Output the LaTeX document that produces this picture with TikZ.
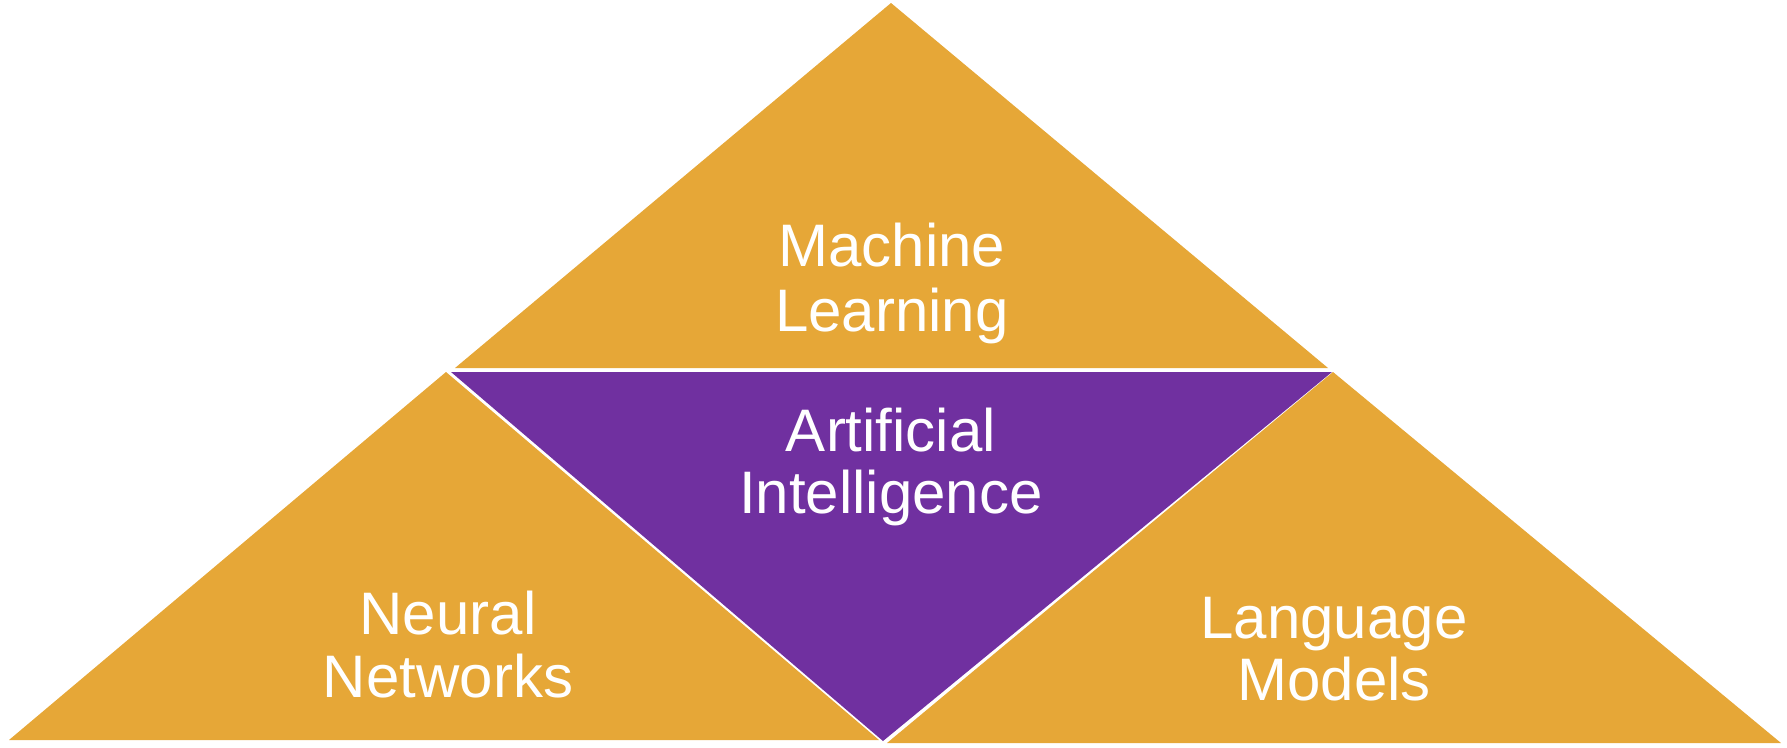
\documentclass[tikz,border=0pt]{standalone}
\usepackage{fontspec}
\setmainfont{Liberation Sans}
\definecolor{aiGold}{HTML}{E6A737}
\definecolor{aiPurple}{HTML}{7030A0}
\begin{document}
\begin{tikzpicture}[x=1pt,y=-1pt,
  goldtri/.style={fill=aiGold, draw=none},
  purpletri/.style={fill=aiPurple, draw=none},
  lbl/.style={text=white, font=\fontsize{60}{64}\selectfont, anchor=base, inner sep=0pt}]
\useasboundingbox (0,0) rectangle (1787,747);
% top triangle (Machine Learning)
\coordinate (tA) at (891,3);
\coordinate (tL) at (455,368);
\coordinate (tR) at (1328,368);
% central inverted triangle (AI)
\coordinate (cL) at (451,372);
\coordinate (cR) at (1332,372);
\coordinate (cB) at (883,741);
% left triangle (Neural Networks)
\coordinate (lA) at (446,372);
\coordinate (lL) at (9,740);
\coordinate (lR) at (879,740);
% right triangle (Language Models)
\coordinate (rA) at (1333,372);
\coordinate (rL) at (887,743);
\coordinate (rR) at (1781,743);
\fill[goldtri] (tA) -- (tL) -- (tR) -- cycle;
\fill[purpletri] (cL) -- (cR) -- (cB) -- cycle;
\fill[goldtri] (lA) -- (lL) -- (lR) -- cycle;
\fill[goldtri] (rA) -- (rL) -- (rR) -- cycle;
\node[lbl] (ml1) at (892,266) {Machine};
\node[lbl] (ml2) at (892,331) {Learning};
\node[lbl] (ai1) at (891,451) {Artificial};
\node[lbl] (ai2) at (891,513) {Intelligence};
\node[lbl] (nn1) at (448,634) {Neural};
\node[lbl] (nn2) at (448,697) {Networks};
\node[lbl] (lm1) at (1334,638) {Language};
\node[lbl] (lm2) at (1334,700) {Models};
\end{tikzpicture}
\end{document}
